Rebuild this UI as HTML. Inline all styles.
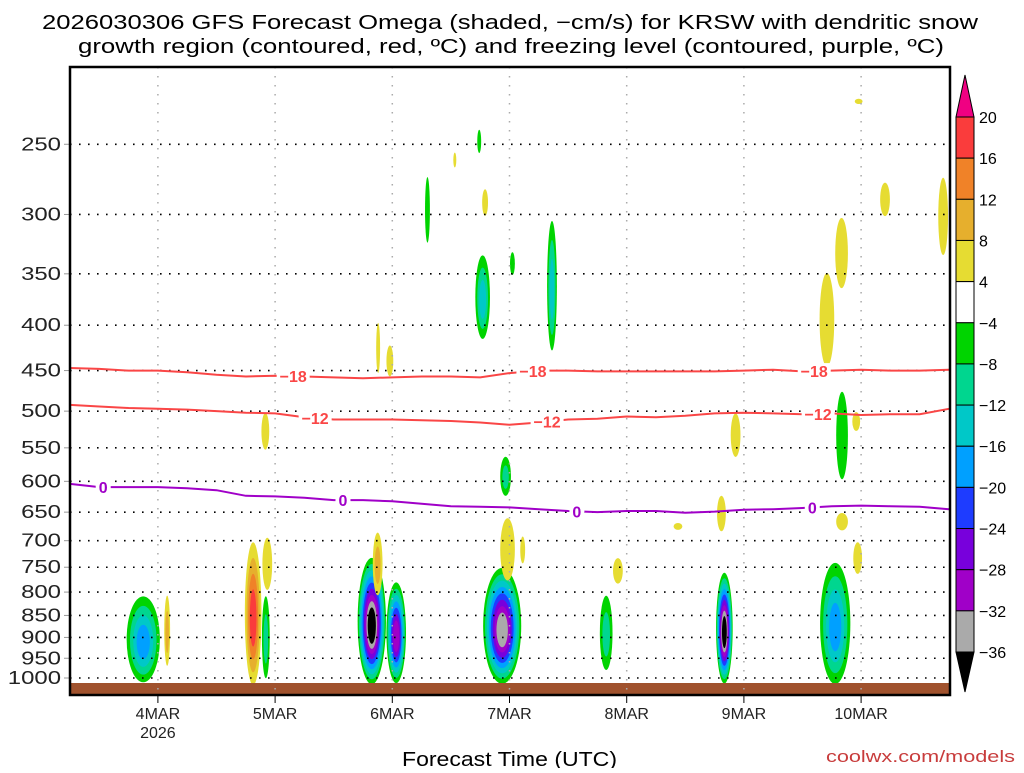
<!DOCTYPE html>
<html><head><meta charset="utf-8"><style>
body{margin:0;background:#fff;}
svg text{font-family:"Liberation Sans",sans-serif;}
</style></head><body>
<svg id="chart" width="1024" height="768" viewBox="0 0 1024 768" xmlns="http://www.w3.org/2000/svg">
<text x="42" y="29" font-size="20" textLength="936" lengthAdjust="spacingAndGlyphs" fill="#000">2026030306 GFS Forecast Omega (shaded, −cm/s) for KRSW with dendritic snow</text>
<text x="78" y="53" font-size="20" textLength="866" lengthAdjust="spacingAndGlyphs" fill="#000">growth region (contoured, red, ºC) and freezing level (contoured, purple, ºC)</text>
<g id="plot"></g>
<g id="cbar"></g>
<text x="402" y="766" font-size="20" textLength="215" lengthAdjust="spacingAndGlyphs" fill="#000">Forecast Time (UTC)</text>
<text x="826" y="762" font-size="17" textLength="189" lengthAdjust="spacingAndGlyphs" fill="#c83c3c">coolwx.com/models</text>
</svg>
<script>
// ---- data ----
const pressureTicks=[250,300,350,400,450,500,550,600,650,700,750,800,850,900,950,1000];
const dayLabels=["4MAR","5MAR","6MAR","7MAR","8MAR","9MAR","10MAR"];
const dayHours=[18,42,66,90,114,138,162];
const contourHours=[0,6,12,18,24,30,36,42,48,54,60,66,72,78,84,90,96,102,108,114,120,126,132,138,144,150,156,162,168,174,180];
const isoM18=[447,448,450,450,452,455,457,456,457,458,459,458,457,457,458,453,450,450,451,451,451,451,451,450,449,451,450,449,450,450,449];
const isoM12=[492,494,496,497,498,500,502,503,508,511,511,511,512,513,515,518,515,511,510,507,508,506,503,502,503,504,503,505,504,504,497];
const iso0=[604,609,609,609,611,614,623,624,626,630,630,632,636,640,641,642,645,648,650,648,648,651,649,646,645,643,640,639,640,641,645];
const labelsM18=[45.7,94.8,152.4];
const labelsM12=[50.2,97.7,153.2];
const labels0=[6.8,55.9,103.8,152];
// omega cells: center hour, half-width hours, top pressure, bottom pressure, peak value (-cm/s)
const cellHour=[15,19.9,37.5,40.1,61.8,66.8,88.5,109.8,134,156.7,63,40.4,89.6,92.7,63.1,65.5,40,85,155,158,166.9,178.8,136.3,161,133.4,158.1,161.3,112.2,78.8,161.5,124.5,84.5,98.7,89.2,90.6,73.2,83.8,158.1];
const cellHalfW=[3.4,0.6,1.7,0.8,2.9,2.0,3.9,1.3,1.7,3.1,1,1,1.5,0.5,0.4,0.7,0.8,0.6,1.5,1.3,1,1,1,0.8,0.9,1.2,0.9,1,0.3,0.8,0.9,1.5,1,1.1,0.5,0.5,0.4,1.2];
const cellTop=[800,800,690,800,720,770,740,800,750,730,680,690,655,690,395,420,500,280,345,300,275,270,500,500,620,650,700,730,255,222,668,330,300,560,330,270,240,470];
const cellBot=[1000,960,1000,990,1000,1000,1000,970,1000,1000,800,790,770,740,450,455,550,300,440,360,300,330,560,525,680,680,760,780,265,225,680,410,420,620,350,320,255,590];
const cellPeak=[-17,10,18,-8,-40,-28,-34,-8,-40,-16,10,6,6,6,6,6,6,6,6,6,6,6,6,6,6,6,6,6,6,6,6,-14,-14,-10,-6,-6,-6,-6];
const cbarLabels=["20","16","12","8","4","−4","−8","−12","−16","−20","−24","−28","−32","−36"];
// ---- scales ----
const X0=70,X1=950,Y0=67,Y1=695;
const xs=h=>X0+h*(117.2/24);
const ys=p=>678-385*Math.log(1000/p);
const NS='http://www.w3.org/2000/svg';
function mk(tag,attrs,parent){const e=document.createElementNS(NS,tag);for(const k in attrs)e.setAttribute(k,attrs[k]);parent.appendChild(e);return e;}
const plot=document.getElementById('plot');
const posCols=["#e6dc32","#e6af2d","#f08228","#fa3c3c","#f00082"];
const negCols=["#00d400","#00d68f","#00c8c8","#00a0ff","#1e3cff","#7800dc","#a000c8","#aaaaaa","#000000"];
// cells
for(let i=0;i<cellHour.length;i++){
  const v=cellPeak[i];const n=Math.min(Math.floor((Math.abs(v)-4)/4)+1,v>0?5:9);
  const cx=xs(cellHour[i]),rx=Math.max(cellHalfW[i]*4.883,1.5);
  const yt=ys(cellTop[i]),yb=ys(cellBot[i]);const cy=(yt+yb)/2+(yb-yt)*0.05,ry=(yb-yt)/2;
  for(let k=0;k<n;k++){
    const s=1-k/n*0.8;
    const e=mk('ellipse',{cx:cx,cy:cy+(1-s)*ry*0.1,rx:rx*Math.max(s,0.25),ry:ry*s,fill:(v>0?posCols:negCols)[k]},plot);
    
    
  }
}
// ground
const gr=mk('rect',{x:X0,y:683,width:X1-X0,height:Y1-683,fill:'#a0522d'},plot);


// grid
pressureTicks.forEach(p=>{
  const y=ys(p);
  const l=mk('line',{x1:X0,x2:X1,y1:y,y2:y,stroke:'#000','stroke-width':1.6,'stroke-dasharray':'1.6 7.4'},plot);
  
  
  const w=String(p).length*13.3;
  const t=mk('text',{x:61-w,y:y+6,'font-size':18,textLength:w,lengthAdjust:'spacingAndGlyphs',fill:'#222'},plot);t.textContent=p;
  
  
  const tk=mk('line',{x1:X0-6,x2:X0,y1:y,y2:y,stroke:'#999','stroke-width':1},plot);
  
  
});
dayHours.forEach((h,i)=>{
  const x=xs(h);
  const l=mk('line',{x1:x,x2:x,y1:Y0,y2:Y1,stroke:'#aaa','stroke-width':1.5,'stroke-dasharray':'1.5 7.5'},plot);
  
  
  const tk=mk('line',{x1:x,x2:x,y1:Y1,y2:Y1+8,stroke:'#000','stroke-width':1},plot);
  
  
  const t=mk('text',{x:x,y:719,'font-size':16,'text-anchor':'middle',fill:'#222'},plot);t.textContent=dayLabels[i];
  
  
});
const yr=mk('text',{x:xs(18),y:738,'font-size':16,'text-anchor':'middle',fill:'#222'},plot);yr.textContent='2026';


// contours
function contour(arr,col,name,labHours,lab){
  const d=arr.map((p,i)=>(i?'L':'M')+xs(contourHours[i]).toFixed(1)+' '+ys(p).toFixed(1)).join(' ');
  const pth=mk('path',{d:d,fill:'none',stroke:col,'stroke-width':2},plot);
  
  
  labHours.forEach((h,j)=>{
    let k=0;while(k<contourHours.length-2&&contourHours[k+1]<h)k++;
    const f=(h-contourHours[k])/(contourHours[k+1]-contourHours[k]);
    const p=arr[k]+(arr[k+1]-arr[k])*f;const x=xs(h),y=ys(p);
    const w=lab.length*9+6;
    const r=mk('rect',{x:x-w/2,y:y-8,width:w,height:16,fill:'#fff'},plot);
    
    
    const t=mk('text',{x:x,y:y+6,'font-size':16,'font-weight':'bold','text-anchor':'middle',fill:col},plot);t.textContent=lab;
    
    
  });
}
contour(isoM18,'#fa4646','isotherm-minus18',labelsM18,'−18');
contour(isoM12,'#fa4646','isotherm-minus12',labelsM12,'−12');
contour(iso0,'#a000c8','freezing-level-0c',labels0,'0');
// frame
const fr=mk('rect',{x:X0,y:Y0,width:X1-X0,height:Y1-Y0,fill:'none',stroke:'#000','stroke-width':2.5},plot);


// colorbar
const cb=document.getElementById('cbar');
const cbCols=["#fa3c3c","#f08228","#e6af2d","#e6dc32","#ffffff","#00d400","#00d68f","#00c8c8","#00a0ff","#1e3cff","#7800dc","#a000c8","#aaaaaa"];
const cT=117,cB=652,cX=956,cW=18,seg=(cB-cT)/13;
const ta=mk('polygon',{points:`${cX},${cT} ${cX+cW},${cT} ${cX+cW/2},${cT-42}`,fill:'#f00082',stroke:'#000','stroke-width':1},cb);


const ba=mk('polygon',{points:`${cX},${cB} ${cX+cW},${cB} ${cX+cW/2},${cB+40}`,fill:'#000',stroke:'#000','stroke-width':1},cb);


cbCols.forEach((c,i)=>{
  const r=mk('rect',{x:cX,y:cT+i*seg,width:cW,height:seg,fill:c,stroke:'#000','stroke-width':1},cb);
  
  
});
cbarLabels.forEach((s,i)=>{
  const t=mk('text',{x:979,y:cT+i*seg+6,'font-size':16,fill:'#000'},cb);t.textContent=s;
  
  
});
</script>
</body></html>
